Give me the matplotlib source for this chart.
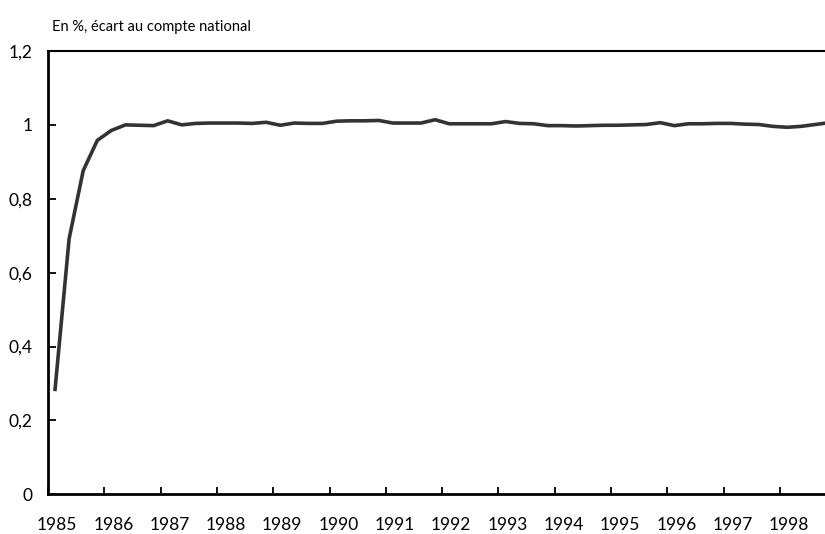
import matplotlib
matplotlib.use("Agg")
import matplotlib.pyplot as plt
import numpy as np

plt.rcParams['font.family'] = ['Lato', 'DejaVu Sans']

# trimestriel, 1985T1 -> 1998T4
values = [0.284, 0.692, 0.876, 0.958, 0.985, 1.000, 0.999, 0.998,
          1.011, 1.000, 1.004, 1.005, 1.005, 1.005, 1.004, 1.007,
          0.999, 1.005, 1.004, 1.004, 1.010, 1.011, 1.011, 1.012,
          1.005, 1.005, 1.005, 1.014, 1.003, 1.003, 1.003, 1.003,
          1.009, 1.004, 1.003, 0.998, 0.998, 0.997, 0.998, 0.999,
          0.999, 1.000, 1.001, 1.006, 0.998, 1.003, 1.003, 1.004,
          1.004, 1.002, 1.001, 0.996, 0.9935, 0.996, 1.001, 1.006]
years = list(range(1985, 1999))
yticks = [0, 0.2, 0.4, 0.6, 0.8, 1, 1.2]
ytick_labels = ['0', '0,2', '0,4', '0,6', '0,8', '1', '1,2']

x = 1985 + (np.arange(len(values)) + 0.5) / 4

fig = plt.figure(figsize=(8.25, 5.34), dpi=100)
ax = fig.add_axes([0.0582, 0.0743, 0.9418, 0.8302])

ax.plot(x, values, color='#333333', lw=2.6, solid_joinstyle='round')

ax.set_xlim(1985, 1998.80)
ax.set_ylim(0, 1.2)

ax.set_xticks(years)
ax.set_xticklabels([])
ax.set_xticks([y + 0.16 for y in years], minor=True)
ax.set_xticklabels([str(y) for y in years], minor=True, fontsize=12.5)
ax.tick_params(axis='x', which='major', direction='in', length=5, width=1.3)
ax.tick_params(axis='x', which='minor', length=0, pad=16)

ax.set_yticks(yticks)
ax.set_yticklabels(ytick_labels, fontsize=12.5)
ax.tick_params(axis='y', direction='in', length=6, width=1.3, pad=11)

for s in ['left', 'bottom']:
    ax.spines[s].set_linewidth(2)
ax.spines['top'].set_linewidth(1.5)
ax.spines['right'].set_visible(False)

fig.text(52 / 825, 1 - 27 / 534, 'En %, écart au compte national',
         fontsize=10.5, ha='left', va='center')

fig.savefig('out.png', dpi=100)
